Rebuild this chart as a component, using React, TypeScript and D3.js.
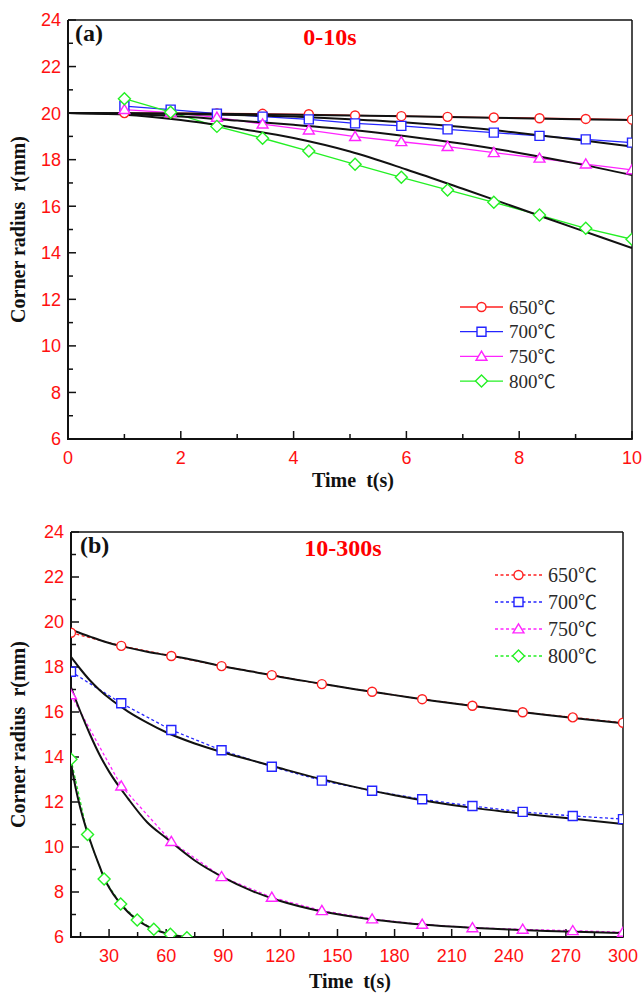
import React from 'react';
import * as d3 from 'd3';

// ---------- Data ----------
const seriesNames = ['650', '700', '750', '800'];
const seriesUnit = '℃';
const seriesColors = ['#ff2020', '#2424ff', '#ff24ff', '#24f024'];
const seriesSymbols = ['circle', 'square', 'triangle', 'diamond'];

// Panel (a): 0-10 s
const topTimes = [1, 1.82, 2.64, 3.45, 4.27, 5.09, 5.91, 6.73, 7.55, 8.36, 9.18, 10];
const top650 = [20.0, 20.0, 19.99, 19.97, 19.95, 19.9, 19.87, 19.84, 19.81, 19.78, 19.75, 19.72];
const top700 = [20.3, 20.15, 19.98, 19.85, 19.73, 19.56, 19.45, 19.3, 19.16, 19.02, 18.87, 18.73];
const top750 = [20.15, 20.02, 19.82, 19.53, 19.27, 18.99, 18.77, 18.56, 18.3, 18.06, 17.81, 17.56];
const top800 = [20.62, 20.04, 19.43, 18.92, 18.37, 17.8, 17.24, 16.7, 16.17, 15.62, 15.05, 14.58];

const topFitTimes = [0, 1, 2, 3, 4, 5, 6, 7, 8, 9, 10];
const topFit650 = [20, 19.99, 19.98, 19.96, 19.93, 19.9, 19.86, 19.82, 19.78, 19.74, 19.7];
const topFit700 = [20, 19.99, 19.96, 19.92, 19.85, 19.74, 19.6, 19.4, 19.15, 18.87, 18.56];
const topFit750 = [20, 19.96, 19.85, 19.68, 19.5, 19.29, 19.01, 18.68, 18.29, 17.84, 17.34];
const topFit800 = [20, 19.93, 19.7, 19.35, 18.93, 18.35, 17.58, 16.75, 15.9, 15.05, 14.2];

// Panel (b): 10-300 s
const botTimes = [10, 36.4, 62.7, 89.1, 115.5, 141.8, 168.2, 194.5, 220.9, 247.3, 273.6, 300];
const bot650 = [19.52, 18.94, 18.49, 18.04, 17.64, 17.24, 16.9, 16.57, 16.28, 15.99, 15.76, 15.52];
const bot700 = [17.79, 16.39, 15.2, 14.3, 13.57, 12.95, 12.5, 12.12, 11.82, 11.56, 11.38, 11.24];
const bot750 = [16.76, 12.71, 10.24, 8.68, 7.76, 7.17, 6.8, 6.56, 6.41, 6.34, 6.28, 6.21];
const bot800Times = [10, 18.7, 27.4, 36.1, 44.8, 53.5, 62.2, 70.9];
const bot800 = [13.9, 10.56, 8.58, 7.47, 6.76, 6.34, 6.12, 5.97];

const botFitTimes = [10, 15, 20, 25, 30, 40, 50, 60, 75, 90, 105, 120, 140, 160, 180, 200, 220, 240, 260, 280, 300];
const botFit650 = [19.67, 19.5, 19.35, 19.2, 19.07, 18.86, 18.68, 18.53, 18.3, 18.02, 17.8, 17.56, 17.28, 17.0, 16.75, 16.5, 16.28, 16.07, 15.87, 15.68, 15.5];
const botFit700 = [18.45, 17.9, 17.4, 16.98, 16.62, 16.02, 15.53, 15.1, 14.6, 14.2, 13.85, 13.5, 13.05, 12.65, 12.3, 12.0, 11.75, 11.55, 11.37, 11.2, 11.02];
const botFit750 = [17.1, 16.0, 15.0, 14.1, 13.35, 12.15, 11.1, 10.4, 9.4, 8.65, 8.05, 7.6, 7.17, 6.88, 6.67, 6.52, 6.41, 6.33, 6.27, 6.22, 6.18];
const botFit800Times = [10, 12.5, 15, 17.5, 20, 22.5, 25, 27.5, 30, 35, 40, 45, 50, 55, 60, 65, 70, 75];
const botFit800 = [13.72, 12.6, 11.7, 10.95, 10.3, 9.7, 9.15, 8.6, 8.2, 7.58, 7.1, 6.75, 6.48, 6.3, 6.16, 6.07, 6.0, 5.95];

const yTicks = [6, 8, 10, 12, 14, 16, 18, 20, 22, 24];
const yMinorTicks = [7, 9, 11, 13, 15, 17, 19, 21, 23];
const topXTicks = [0, 2, 4, 6, 8, 10];
const topXMinor = [1, 3, 5, 7, 9];
const botXTicks = [30, 60, 90, 120, 150, 180, 210, 240, 270, 300];
const botXMinor = [15, 45, 75, 105, 135, 165, 195, 225, 255, 285];

// ---------- Helpers ----------
function symbolPath(kind: string, x: number, y: number): string {
  if (kind === 'circle') {
    const r = 4.5;
    return `M${x - r},${y}a${r},${r} 0 1,0 ${2 * r},0a${r},${r} 0 1,0 ${-2 * r},0Z`;
  }
  if (kind === 'square') {
    const h = 4.5;
    return `M${x - h},${y - h}h${2 * h}v${2 * h}h${-2 * h}Z`;
  }
  if (kind === 'triangle') {
    const h = 5.2;
    return `M${x},${y - h}L${x + h * 1.05},${y + h * 0.75}L${x - h * 1.05},${y + h * 0.75}Z`;
  }
  const d = 6;
  return `M${x},${y - d}L${x + d},${y}L${x},${y + d}L${x - d},${y}Z`;
}

type Series = { t: number[]; v: number[] };

type PanelProps = {
  id: string;
  xDomain: [number, number];
  left: number;
  right: number;
  top: number;
  bottom: number;
  xTicks: number[];
  xMinor: number[];
  data: Series[];
  fits: Series[];
  dashed: boolean;
  label: string;
  title: string;
  titleX: number;
  titleY: number;
  labelX: number;
  labelY: number;
  legendX: number;
  legendY: number;
  legendStep: number;
  legendLineLen: number;
  legendFont: number;
  xLabelY: number;
  xTitleY: number;
};

function Panel(p: PanelProps) {
  const x = d3.scaleLinear().domain(p.xDomain).range([p.left, p.right]);
  const y = d3.scaleLinear().domain([6, 24]).range([p.bottom, p.top]);
  const line = d3
    .line<[number, number]>()
    .x((d) => x(d[0]))
    .y((d) => y(d[1]));
  const fitLine = d3
    .line<[number, number]>()
    .x((d) => x(d[0]))
    .y((d) => y(d[1]))
    .curve(d3.curveMonotoneX);
  const clipId = `clip-${p.id}`;
  const pairs = (s: Series) => s.t.map((t, i) => [t, s.v[i]] as [number, number]);
  const tickFont = { fontFamily: '"Liberation Sans", Arial, sans-serif', fontSize: 18, fill: '#ff1010' };
  const serif = '"Liberation Serif", "Times New Roman", serif';
  const midX = (p.left + p.right) / 2;
  const midY = (p.top + p.bottom) / 2;

  return (
    <g>
      <defs>
        <clipPath id={clipId}>
          <rect x={p.left} y={p.top} width={p.right - p.left} height={p.bottom - p.top} />
        </clipPath>
      </defs>
      {/* frame */}
      <line x1={p.left} x2={p.right} y1={p.top} y2={p.top} stroke="#111" strokeWidth={1.5} />
      <line x1={p.right} x2={p.right} y1={p.top} y2={p.bottom} stroke="#111" strokeWidth={1.5} />
      <line x1={p.left} x2={p.left} y1={p.top} y2={p.bottom + 1} stroke="#111" strokeWidth={2} />
      <line x1={p.left - 1} x2={p.right + 0.75} y1={p.bottom} y2={p.bottom} stroke="#111" strokeWidth={2} />
      {/* y ticks */}
      {yTicks.map((v) => (
        <g key={`yt${v}`}>
          <line x1={p.left} x2={p.left + 8} y1={y(v)} y2={y(v)} stroke="#111" strokeWidth={1.5} />
          <text x={p.left - 7} y={y(v)} dy="0.36em" textAnchor="end" style={tickFont}>
            {v}
          </text>
        </g>
      ))}
      {yMinorTicks.map((v) => (
        <line key={`ym${v}`} x1={p.left} x2={p.left + 5} y1={y(v)} y2={y(v)} stroke="#111" strokeWidth={1.5} />
      ))}
      {/* x ticks */}
      {p.xTicks.map((v) => (
        <g key={`xt${v}`}>
          <line x1={x(v)} x2={x(v)} y1={p.bottom} y2={p.bottom - 8} stroke="#111" strokeWidth={1.5} />
          <text x={x(v)} y={p.xLabelY} textAnchor="middle" style={tickFont}>
            {v}
          </text>
        </g>
      ))}
      {p.xMinor.map((v) => (
        <line key={`xm${v}`} x1={x(v)} x2={x(v)} y1={p.bottom} y2={p.bottom - 5} stroke="#111" strokeWidth={1.5} />
      ))}
      {/* axis titles */}
      <text
        transform={`translate(25, ${midY}) rotate(-90)`}
        textAnchor="middle"
        style={{ fontFamily: serif, fontWeight: 'bold', fontSize: 20, fill: '#111', whiteSpace: 'pre' }}
      >
        {'Corner radius\u00a0\u00a0r(mm)'}
      </text>
      <text
        x={midX + 3}
        y={p.xTitleY}
        textAnchor="middle"
        style={{ fontFamily: serif, fontWeight: 'bold', fontSize: 20, fill: '#111', whiteSpace: 'pre' }}
      >
        {'Time\u00a0\u00a0t(s)'}
      </text>
      {/* data */}
      <g clipPath={`url(#${clipId})`}>
        {p.data.map((s, i) => (
          <path
            key={`dl${i}`}
            d={line(pairs(s)) || ''}
            fill="none"
            stroke={seriesColors[i]}
            strokeWidth={1.3}
            strokeDasharray={p.dashed ? '3,2.5' : undefined}
          />
        ))}
        {p.fits.map((s, i) => (
          <path key={`fl${i}`} d={fitLine(pairs(s)) || ''} fill="none" stroke="#111" strokeWidth={2} />
        ))}
        {p.data.map((s, i) =>
          s.t.map((t, j) => (
            <path
              key={`m${i}-${j}`}
              d={symbolPath(seriesSymbols[i], x(t), y(s.v[j]))}
              fill="#fff"
              stroke={seriesColors[i]}
              strokeWidth={1.4}
            />
          ))
        )}
      </g>
      {/* panel label and title */}
      <text x={p.labelX} y={p.labelY} style={{ fontFamily: serif, fontWeight: 'bold', fontSize: 24, fill: '#111' }}>
        {p.label}
      </text>
      <text
        x={p.titleX}
        y={p.titleY}
        textAnchor="middle"
        style={{ fontFamily: serif, fontWeight: 'bold', fontSize: 24, fill: '#ff0000' }}
      >
        {p.title}
      </text>
      {/* legend */}
      {seriesNames.map((name, i) => {
        const ly = p.legendY + i * p.legendStep;
        const cx = p.legendX + p.legendLineLen / 2;
        return (
          <g key={`lg${i}`}>
            <line
              x1={p.legendX}
              x2={p.legendX + p.legendLineLen}
              y1={ly}
              y2={ly}
              stroke={seriesColors[i]}
              strokeWidth={1.3}
              strokeDasharray={p.dashed ? '3,2.5' : undefined}
            />
            <path d={symbolPath(seriesSymbols[i], cx, ly)} fill="#fff" stroke={seriesColors[i]} strokeWidth={1.4} />
            <text
              x={p.legendX + p.legendLineLen + 6}
              y={ly}
              dy="0.35em"
              style={{ fontFamily: serif, fontSize: p.legendFont, fill: '#2a2a2a' }}
            >
              {name}
              <tspan style={{ fontFamily: '"Noto Sans CJK SC", sans-serif', fontSize: p.legendFont * 0.95 }}>
                {seriesUnit}
              </tspan>
            </text>
          </g>
        );
      })}
    </g>
  );
}

export default function App() {
  const topData: Series[] = [
    { t: topTimes, v: top650 },
    { t: topTimes, v: top700 },
    { t: topTimes, v: top750 },
    { t: topTimes, v: top800 },
  ];
  const topFits: Series[] = [
    { t: topFitTimes, v: topFit650 },
    { t: topFitTimes, v: topFit700 },
    { t: topFitTimes, v: topFit750 },
    { t: topFitTimes, v: topFit800 },
  ];
  const botData: Series[] = [
    { t: botTimes, v: bot650 },
    { t: botTimes, v: bot700 },
    { t: botTimes, v: bot750 },
    { t: bot800Times, v: bot800 },
  ];
  const botFits: Series[] = [
    { t: botFitTimes, v: botFit650 },
    { t: botFitTimes, v: botFit700 },
    { t: botFitTimes, v: botFit750 },
    { t: botFit800Times, v: botFit800 },
  ];
  return (
    <svg
      width={644}
      height={994}
      viewBox="0 0 644 994"
      style={{ position: 'absolute', left: 0, top: 0, background: '#fff' }}
    >
      <rect x={0} y={0} width={644} height={994} fill="#fff" />
      <Panel
        id="a"
        xDomain={[0, 10]}
        left={68}
        right={632}
        top={20}
        bottom={439}
        xTicks={topXTicks}
        xMinor={topXMinor}
        data={topData}
        fits={topFits}
        dashed={false}
        label="(a)"
        title="0-10s"
        titleX={330}
        titleY={45}
        labelX={75}
        labelY={41}
        legendX={460}
        legendY={307}
        legendStep={24.7}
        legendLineLen={43}
        legendFont={19}
        xLabelY={464}
        xTitleY={487}
      />
      <Panel
        id="b"
        xDomain={[10, 300]}
        left={71}
        right={623}
        top={532}
        bottom={937}
        xTicks={botXTicks}
        xMinor={botXMinor}
        data={botData}
        fits={botFits}
        dashed={true}
        label="(b)"
        title="10-300s"
        titleX={343}
        titleY={556}
        labelX={80}
        labelY={553}
        legendX={495}
        legendY={575}
        legendStep={27}
        legendLineLen={47}
        legendFont={20}
        xLabelY={962}
        xTitleY={988}
      />
    </svg>
  );
}
